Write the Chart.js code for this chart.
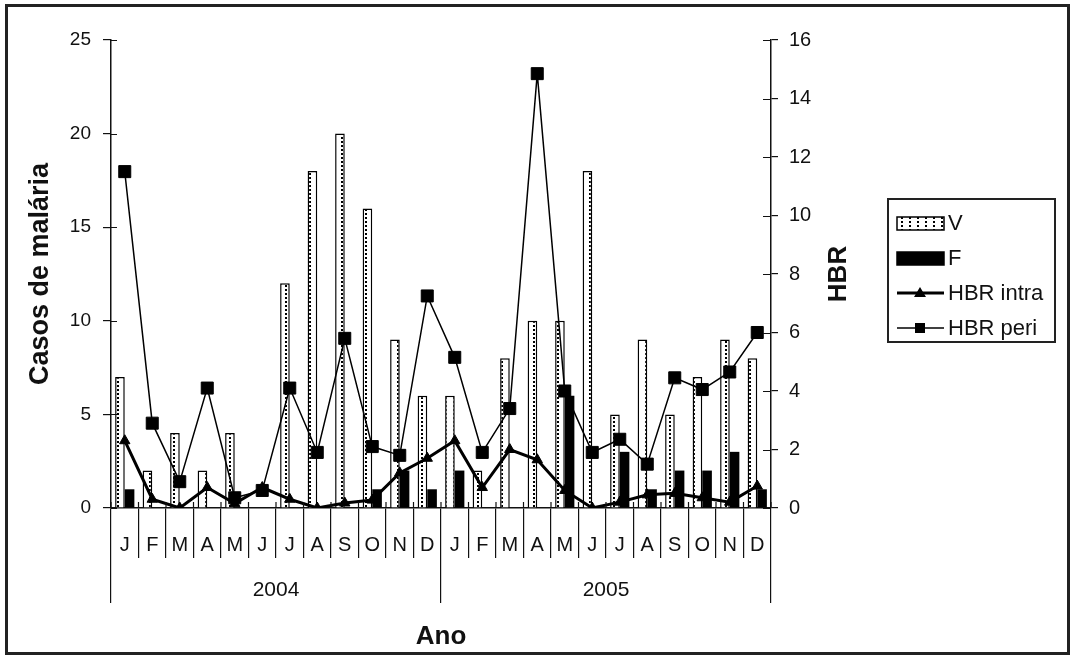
<!DOCTYPE html>
<html>
<head>
<meta charset="utf-8">
<script src="https://cdn.jsdelivr.net/npm/chart.js@4.4.1/dist/chart.umd.min.js"></script>
<style>
  html, body { margin: 0; padding: 0; background: #fff; }
  #wrap { width: 1075px; height: 656px; position: relative; }
</style>
</head>
<body>
<div id="wrap"><canvas id="chart"></canvas></div>
<script>
// monthly data, Jan 2004 - Dec 2005
const months = ['J', 'F', 'M', 'A', 'M', 'J', 'J', 'A', 'S', 'O', 'N', 'D',
                'J', 'F', 'M', 'A', 'M', 'J', 'J', 'A', 'S', 'O', 'N', 'D'];
const years = ['2004', '2005'];

const casosV = [7, 2, 4, 2, 4, 0, 12, 18, 20, 16, 9, 6,
                6, 2, 8, 10, 10, 18, 5, 9, 5, 7, 9, 8];
const casosF = [1, 0, 0, 0, 0, 0, 0, 0, 0, 1, 2, 1,
                2, 0, 0, 0, 6, 0, 3, 1, 2, 2, 3, 1];
const hbrIntra = [2.3, 0.3, 0, 0.7, 0.15, 0.7, 0.3, 0, 0.17, 0.27, 1.2, 1.7,
                  2.3, 0.7, 2.0, 1.65, 0.6, 0, 0.2, 0.45, 0.5, 0.35, 0.2, 0.75];
const hbrPeri = [11.5, 2.9, 0.9, 4.1, 0.35, 0.6, 4.1, 1.9, 5.8, 2.1, 1.8, 7.25,
                 5.15, 1.9, 3.4, 14.85, 4.0, 1.9, 2.35, 1.5, 4.45, 4.05, 4.65, 6.0];

const FONT = "'Liberation Sans', Arial, sans-serif";
const INK = '#111';

const canvas = document.getElementById('chart');
const ctx = canvas.getContext('2d');

// white bars with a sprinkle of dots, like the old excel fill
function dotPattern() {
  const c = document.createElement('canvas');
  c.width = 8;
  c.height = 4;
  const g = c.getContext('2d');
  g.fillStyle = '#fff';
  g.fillRect(0, 0, 8, 4);
  g.fillStyle = '#000';
  g.fillRect(5, 1, 2, 2);
  return ctx.createPattern(c, 'repeat');
}
const dots = dotPattern();

const extras = {
  id: 'extras',
  afterDraw(chart) {
    const g = chart.ctx;
    const area = chart.chartArea;
    const sx = chart.scales.x, sy = chart.scales.y, sy1 = chart.scales.y1;
    g.save();
    g.strokeStyle = INK;
    g.lineWidth = 1.2;

    // tick marks poking into the plot
    g.beginPath();
    sy.ticks.forEach(t => {
      const py = Math.round(sy.getPixelForValue(t.value)) + 0.5;
      g.moveTo(area.left, py); g.lineTo(area.left + 6, py);
    });
    sy1.ticks.forEach(t => {
      const py = Math.round(sy1.getPixelForValue(t.value)) + 0.5;
      g.moveTo(area.right - 8, py); g.lineTo(area.right, py);
    });
    const step = sx.width / months.length;
    for (let i = 0; i <= months.length; i++) {
      const px = sx.left + i * step;
      g.moveTo(px, area.bottom); g.lineTo(px, area.bottom - 6);
    }
    g.stroke();

    // right axis title, reads bottom to top
    g.fillStyle = INK;
    g.font = 'bold 26px ' + FONT;
    g.textAlign = 'center';
    g.textBaseline = 'middle';
    g.translate(839, (area.top + area.bottom) / 2);
    g.rotate(-Math.PI / 2);
    g.fillText('HBR', 0, 0);
    g.setTransform(1, 0, 0, 1, 0, 0);

    // legend box
    g.lineWidth = 2;
    g.strokeStyle = '#222';
    g.strokeRect(888, 199, 167, 143);
    g.font = '22px ' + FONT;
    g.textAlign = 'left';
    const rows = [223, 258, 293, 328];
    chart.data.datasets.forEach((ds, i) => {
      const cy = rows[i];
      if (ds.type === 'line') {
        g.lineWidth = ds.borderWidth;
        g.beginPath(); g.moveTo(897, cy); g.lineTo(944, cy); g.stroke();
        g.fillStyle = '#000';
        g.beginPath();
        if (ds.pointStyle === 'triangle') {
          g.moveTo(920, cy - 6); g.lineTo(926, cy + 4); g.lineTo(914, cy + 4);
        } else {
          g.rect(915, cy - 5, 10, 10);
        }
        g.fill();
      } else {
        g.fillStyle = ds.backgroundColor;
        g.fillRect(897, cy - 6, 47, 13);
        g.lineWidth = 1.5;
        g.strokeStyle = '#000';
        g.strokeRect(897, cy - 6, 47, 13);
      }
      g.fillStyle = INK;
      g.fillText(ds.label, 948, cy + 1);
    });

    // outer frame
    g.lineWidth = 3;
    g.strokeStyle = '#222';
    g.strokeRect(6.5, 5.5, 1062, 648);
    g.restore();
  }
};

new Chart(ctx, {
  type: 'bar',
  data: {
    labels: months,
    datasets: [
      {
        label: 'V',
        data: casosV,
        yAxisID: 'y',
        backgroundColor: dots,
        borderColor: '#000',
        borderWidth: 1.5,
        barPercentage: 1,
        categoryPercentage: 0.7,
        order: 2
      },
      {
        label: 'F',
        data: casosF,
        yAxisID: 'y',
        backgroundColor: '#000',
        borderColor: '#000',
        borderWidth: 0,
        barPercentage: 1,
        categoryPercentage: 0.7,
        order: 3
      },
      {
        type: 'line',
        label: 'HBR intra',
        data: hbrIntra,
        yAxisID: 'y1',
        borderColor: '#000',
        borderWidth: 3,
        pointStyle: 'triangle',
        pointRadius: 6,
        pointBackgroundColor: '#000',
        pointBorderColor: '#000',
        pointBorderWidth: 1,
        tension: 0,
        order: 1
      },
      {
        type: 'line',
        label: 'HBR peri',
        data: hbrPeri,
        yAxisID: 'y1',
        borderColor: '#000',
        borderWidth: 1.5,
        pointStyle: 'rect',
        pointRadius: 8.5,
        pointBackgroundColor: '#000',
        pointBorderColor: '#000',
        pointBorderWidth: 1,
        tension: 0,
        order: 0
      }
    ]
  },
  options: {
    responsive: true,
    maintainAspectRatio: false,
    animation: false,
    layout: { padding: { top: 40, left: 0, right: 0, bottom: 0 } },
    plugins: {
      legend: { display: false },
      tooltip: { enabled: false }
    },
    scales: {
      x: {
        position: 'bottom',
        weight: 0,
        offset: true,
        grid: { offset: true, drawOnChartArea: false, tickLength: 50, color: INK, lineWidth: 1.2 },
        border: { display: true, color: INK, width: 1.5 },
        ticks: { color: INK, font: { family: FONT, size: 20 }, padding: -25, autoSkip: false, maxRotation: 0 },
        afterFit: s => { s.height = 50; }
      },
      x2: {
        type: 'category',
        labels: years,
        position: 'bottom',
        weight: 1,
        offset: true,
        grid: { offset: true, drawOnChartArea: false, tickLength: 45, color: INK, lineWidth: 1.2 },
        border: { display: false },
        ticks: { color: INK, font: { family: FONT, size: 21 }, padding: -25, maxRotation: 0 },
        title: {
          display: true,
          text: 'Ano',
          color: INK,
          font: { family: FONT, size: 26, weight: 'bold' },
          padding: { top: 0, bottom: 4 }
        },
        afterFit: s => { s.height = 98; }
      },
      y: {
        position: 'left',
        min: 0,
        max: 25,
        grid: { drawOnChartArea: false, tickLength: 8, color: INK, lineWidth: 1.2 },
        border: { display: true, color: INK, width: 1.5 },
        ticks: { stepSize: 5, color: INK, font: { family: FONT, size: 19 }, padding: 12 },
        title: {
          display: true,
          text: 'Casos de malária',
          color: INK,
          font: { family: FONT, size: 27, weight: 'bold' },
          padding: { top: 24, bottom: 0 }
        },
        afterFit: s => { s.width = 111; }
      },
      y1: {
        position: 'right',
        min: 0,
        max: 16,
        grid: { drawOnChartArea: false, tickLength: 7, color: INK, lineWidth: 1.2 },
        border: { display: true, color: INK, width: 1.5 },
        ticks: { stepSize: 2, color: INK, font: { family: FONT, size: 20 }, padding: 11 },
        afterFit: s => { s.width = 304; }
      }
    }
  },
  plugins: [extras]
});
</script>
</body>
</html>
